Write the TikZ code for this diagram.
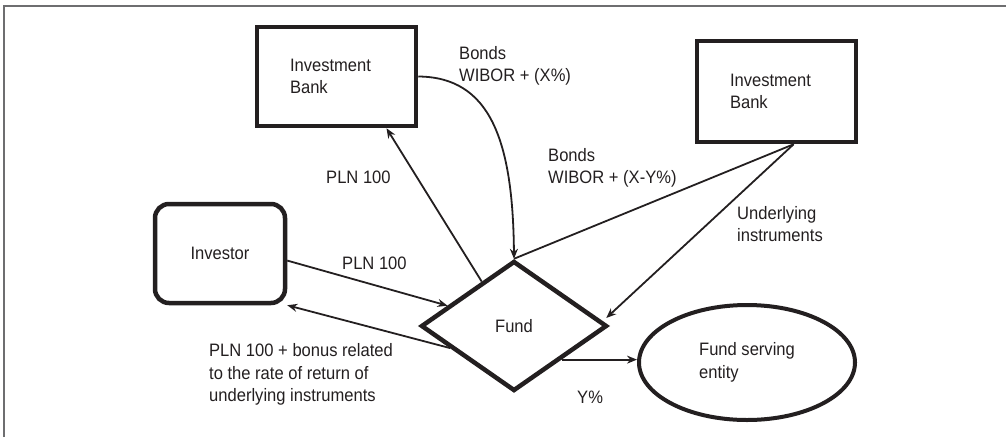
\documentclass[tikz,border=0pt]{standalone}
\usepackage{fontspec}
\setmainfont{Liberation Sans}[FakeStretch=0.92]
\usepackage{xcolor}
\usepackage{tikz}
\usetikzlibrary{shapes.geometric, arrows.meta, positioning, calc}
\definecolor{inkdark}{RGB}{35,31,32}
\definecolor{framegray}{RGB}{110,110,112}
\newcommand{\diagfont}{\fontsize{18}{22.5}\selectfont}
\tikzset{
  bankbox/.style={rectangle, draw=inkdark, line width=4.5pt,
    minimum width=159pt, minimum height=99pt, text width=93pt,
    align=left, font=\diagfont, text=inkdark},
  investorbox/.style={rectangle, draw=inkdark, line width=4.5pt,
    minimum width=130pt, minimum height=99pt, rounded corners=14pt,
    align=center, font=\diagfont, text=inkdark},
  fundshape/.style={diamond, draw=inkdark, line width=4.5pt,
    minimum width=186pt, minimum height=130pt,
    font=\diagfont, text=inkdark},
  servingshape/.style={ellipse, draw=inkdark, line width=4pt,
    minimum width=216pt, minimum height=115pt,
    align=left, font=\diagfont, text=inkdark},
  lbl/.style={font=\diagfont, text=inkdark, align=left, anchor=west,
    inner sep=0pt},
  flow/.style={-{Stealth[length=10pt, width=8pt]}, line width=1.8pt, draw=inkdark},
  link/.style={line width=1.8pt, draw=inkdark}
}

\begin{document}
\begin{tikzpicture}[x=1pt, y=-1pt]
  \useasboundingbox (0,0) rectangle (1006,437);
  % frame
  \draw[framegray, line width=1.2pt] (4,437) -- (4,6) -- (1006,6);
  % parties
  \node[bankbox] (bankA) at (336.5,76.5) {Investment\\Bank};
  \node[bankbox, minimum height=101pt] (bankB) at (776.5,91.5) {Investment\\Bank};
  \node[investorbox] (investor) at (220,253.5) {Investor};
  \node[fundshape] (fund) at (514,326) {Fund};
  \node[servingshape] (serving) at (747,362.5) {Fund serving\\entity};
  % flows with the first bank
  \draw[flow] (fund.126) -- (bankA.-46);
  \draw[flow] (bankA.east) .. controls (490,77) and (513,140) .. (fund.north);
  % flows with the second bank
  \draw[link] (bankB.-72) -- (fund.north);
  \draw[flow] (bankB.-72) -- ([shift={(-3,-8)}]fund.east);
  % flows with the investor
  \draw[flow] (investor.-6) -- (fund.163);
  \draw[flow] (fund.199) -- (investor.south east);
  % fee
  \draw[flow] (fund.south east) -- (fund.south east -| serving.west);
  % labels
  \node[lbl] (payA) at (326,177) {PLN 100};
  \node[lbl] (bondsA) at (459,66) {Bonds\\WIBOR + (X\%)};
  \node[lbl] (bondsB) at (548,168) {Bonds\\WIBOR + (X-Y\%)};
  \node[lbl] (under) at (737,224) {Underlying\\instruments};
  \node[lbl] (payB) at (342,263) {PLN 100};
  \node[lbl] (payback) at (209,374.5) {PLN 100 + bonus related\\to the rate of return of\\underlying instruments};
  \node[lbl] (fee) at (577,397) {Y\%};
\end{tikzpicture}
\end{document}
